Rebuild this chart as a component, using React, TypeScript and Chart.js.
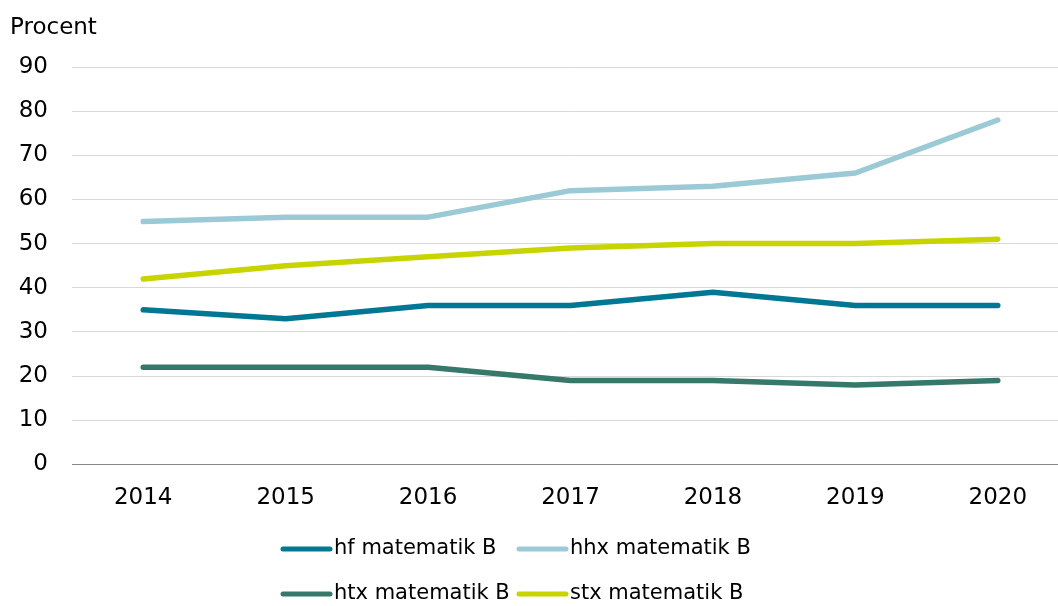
import React, { useEffect, useRef } from "react";
import { Chart, registerables } from "chart.js";

Chart.register(...registerables);

const years = ["2014", "2015", "2016", "2017", "2018", "2019", "2020"];
const hf = [35, 33, 36, 36, 39, 36, 36];
const hhx = [55, 56, 56, 62, 63, 66, 78];
const htx = [22, 22, 22, 19, 19, 18, 19];
const stx = [42, 45, 47, 49, 50, 50, 51];
const seriesNames = ["hf matematik B", "hhx matematik B", "htx matematik B", "stx matematik B"];
const seriesColors = ["#007894", "#9BCAD6", "#36786A", "#C8D400"];
const yTitle = "Procent";

const FONT = "'DejaVu Sans', Verdana, sans-serif";

const extrasPlugin = {
  id: "extras",
  afterDraw(chart: any) {
    const ctx = chart.ctx;
    ctx.save();
    ctx.fillStyle = "#000";
    ctx.font = `23px ${FONT}`;
    ctx.textBaseline = "middle";
    ctx.textAlign = "left";
    ctx.fillText(yTitle, 10, 28);

    // legend: 2 columns x 2 rows
    const colX = [283, 519];
    const rowY = [549, 594];
    ctx.font = `21px ${FONT}`;
    chart.data.datasets.forEach((ds: any, i: number) => {
      const x = colX[i % 2];
      const y = rowY[Math.floor(i / 2)];
      ctx.strokeStyle = ds.borderColor;
      ctx.lineWidth = 5;
      ctx.lineCap = "round";
      ctx.beginPath();
      ctx.moveTo(x, y);
      ctx.lineTo(x + 47, y);
      ctx.stroke();
      ctx.fillStyle = "#000";
      ctx.fillText(ds.label, x + 51, y);
    });
    ctx.restore();
  },
};

export default function App() {
  const ref = useRef<HTMLCanvasElement>(null);
  useEffect(() => {
    if (!ref.current) return;
    const data = [hf, hhx, htx, stx];
    const chart = new Chart(ref.current, {
      type: "line",
      data: {
        labels: years,
        datasets: data.map((d, i) => ({
          label: seriesNames[i],
          data: d,
          borderColor: seriesColors[i],
          backgroundColor: seriesColors[i],
          borderWidth: 5.5,
          borderCapStyle: "round",
          borderJoinStyle: "round",
          pointRadius: 0,
          tension: 0,
        })),
      },
      options: {
        animation: false,
        responsive: false,
        maintainAspectRatio: false,
        layout: { padding: { top: 67, left: 0, right: 1, bottom: 74 } },
        plugins: {
          legend: { display: false },
          tooltip: { enabled: false },
          title: { display: false },
        },
        scales: {
          x: {
            type: "category",
            offset: true,
            grid: { display: false, drawTicks: false },
            border: { display: true, color: "#888888", width: 1 },
            ticks: {
              color: "#000",
              font: { family: FONT, size: 23 },
              padding: 20,
              maxRotation: 0,
            },
          },
          y: {
            min: 0,
            max: 90,
            afterFit: (scale: any) => {
              scale.width = 72;
            },
            grid: {
              drawTicks: false,
              color: (c: any) => (c.tick && c.tick.value === 0 ? "#888888" : "#D9D9D9"),
              lineWidth: 1,
            },
            border: { display: false },
            ticks: {
              stepSize: 10,
              color: "#000",
              font: { family: FONT, size: 23 },
              padding: 24,
            },
          },
        },
      },
      plugins: [extrasPlugin],
    });
    return () => chart.destroy();
  }, []);
  return (
    <div
      style={{
        position: "absolute",
        left: 0,
        top: 0,
        width: 1058,
        height: 606,
        overflow: "hidden",
        background: "#fff",
      }}
    >
      <canvas ref={ref} width={1070} height={606} style={{ width: 1070, height: 606, display: "block" }} />
    </div>
  );
}
